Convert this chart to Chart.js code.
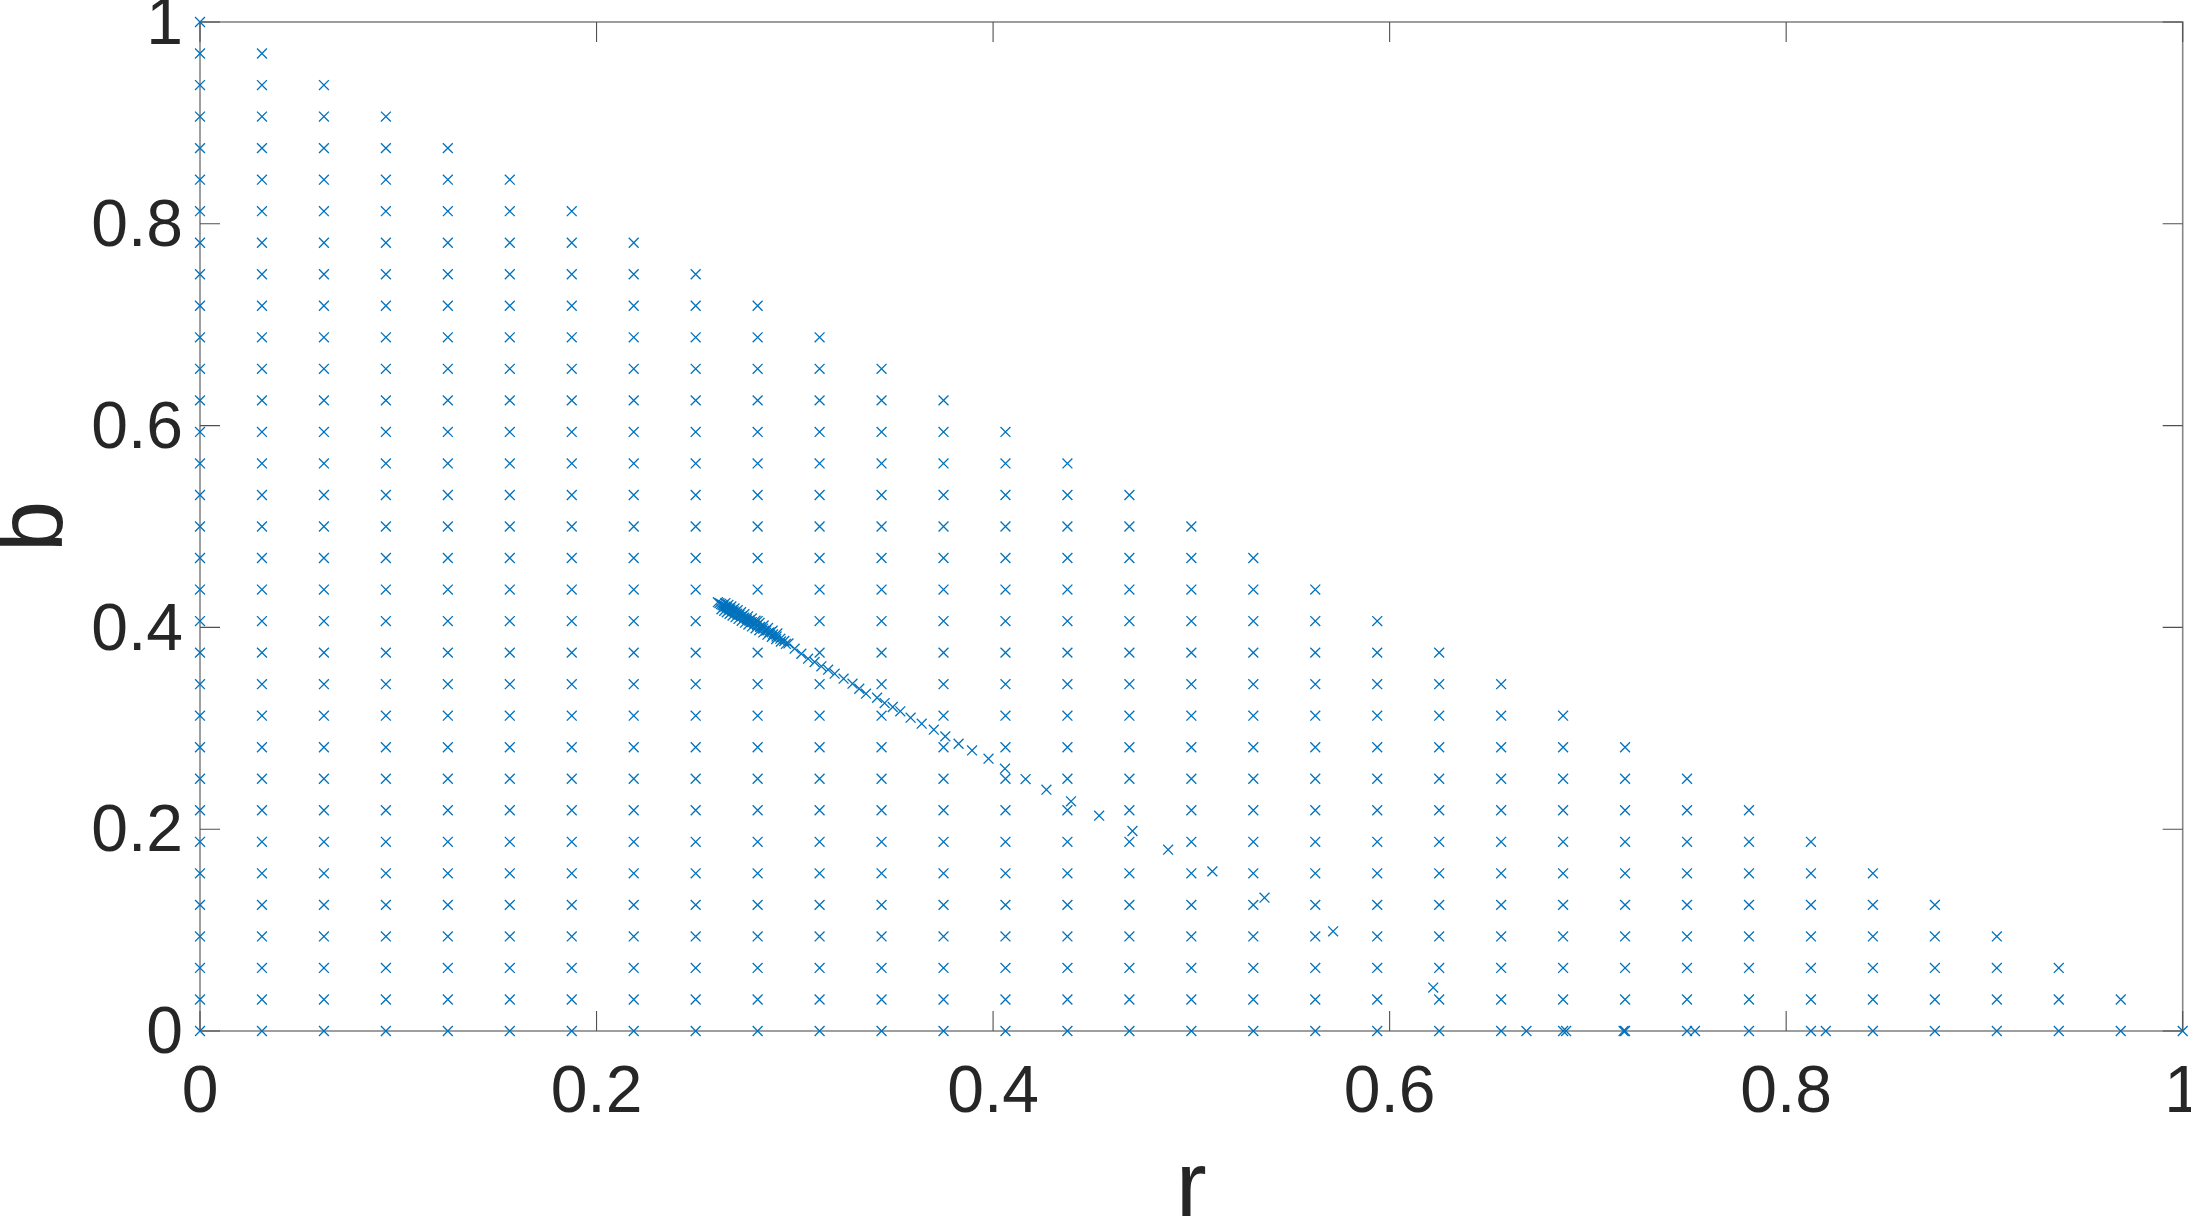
<!DOCTYPE html>
<html>
<head>
<meta charset="utf-8">
<script src="https://cdn.jsdelivr.net/npm/chart.js@4.4.1/dist/chart.umd.min.js"></script>
<style>
  html, body { margin: 0; padding: 0; background: #ffffff; }
  #wrap { width: 2191px; height: 1225px; position: relative; }
</style>
</head>
<body>
<div id="wrap"><canvas id="c"></canvas></div>
<script>
// ---------- data ----------
// grid columns (r) and grid rows (b), step 1/32
const rLevels = [0, 0.03125, 0.0625, 0.09375, 0.125, 0.15625, 0.1875, 0.21875, 0.25, 0.28125, 0.3125,
  0.34375, 0.375, 0.40625, 0.4375, 0.46875, 0.5, 0.53125, 0.5625, 0.59375, 0.625, 0.65625, 0.6875,
  0.71875, 0.75, 0.78125, 0.8125, 0.84375, 0.875, 0.90625, 0.9375, 0.96875, 1];
const bLevels = [0, 0.03125, 0.0625, 0.09375, 0.125, 0.15625, 0.1875, 0.21875, 0.25, 0.28125, 0.3125,
  0.34375, 0.375, 0.40625, 0.4375, 0.46875, 0.5, 0.53125, 0.5625, 0.59375, 0.625, 0.65625, 0.6875,
  0.71875, 0.75, 0.78125, 0.8125, 0.84375, 0.875, 0.90625, 0.9375, 0.96875, 1];
// highest occupied row index in each column
const columnTopRow = [32, 31, 30, 29, 28, 27, 26, 25, 24, 23, 22, 21, 20, 19, 18, 17, 16, 15, 14, 13,
  12, 11, 10, 9, 8, 7, 6, 5, 4, 3, 2, 1, 0];

// trajectory points (off-grid)
const trajR = [
  0.2612, 0.2620, 0.2628, 0.2635, 0.2641, 0.2650, 0.2658, 0.2666, 0.2675, 0.2683, 0.2692, 0.2700,
  0.2710, 0.2721, 0.2733, 0.2745, 0.2758, 0.2770, 0.2783, 0.2797, 0.2810, 0.2825, 0.2840, 0.2856,
  0.2872, 0.2890, 0.2908, 0.2927, 0.2947, 0.2968,
  0.2630, 0.2644, 0.2657, 0.2671, 0.2686, 0.2701, 0.2716, 0.2732, 0.2749, 0.2766, 0.2784, 0.2802,
  0.2821, 0.2841, 0.2862, 0.2884, 0.2906, 0.2930, 0.2955,
  0.2650, 0.2665, 0.2680, 0.2696, 0.2712, 0.2729, 0.2746, 0.2764, 0.2783, 0.2802, 0.2822, 0.2843,
  0.2865, 0.2888, 0.2912,
  0.2999, 0.3033, 0.3067, 0.3100, 0.3134, 0.3168, 0.3201, 0.3246, 0.3291, 0.3325, 0.3359, 0.3415,
  0.3453, 0.3494, 0.3532, 0.3584, 0.3640, 0.3701, 0.3759, 0.3826, 0.3894, 0.3977, 0.4060, 0.4164,
  0.4269, 0.4393, 0.4535, 0.4703, 0.4883, 0.5106, 0.5369, 0.5715, 0.6220,
  0.669, 0.689, 0.718, 0.754, 0.820];
const trajB = [
  0.4250, 0.4241, 0.4232, 0.4224, 0.4217, 0.4206, 0.4197, 0.4188, 0.4178, 0.4168, 0.4158, 0.4149,
  0.4137, 0.4125, 0.4111, 0.4097, 0.4082, 0.4068, 0.4053, 0.4037, 0.4022, 0.4005, 0.3988, 0.3969,
  0.3951, 0.3930, 0.3910, 0.3888, 0.3865, 0.3841,
  0.4179, 0.4165, 0.4150, 0.4134, 0.4118, 0.4101, 0.4084, 0.4066, 0.4047, 0.4029, 0.4010, 0.3991,
  0.3971, 0.3950, 0.3928, 0.3906, 0.3884, 0.3860, 0.3836,
  0.4241, 0.4224, 0.4207, 0.4188, 0.4170, 0.4150, 0.4131, 0.4110, 0.4088, 0.4067, 0.4044, 0.4019,
  0.3994, 0.3968, 0.3940,
  0.3789, 0.3739, 0.3690, 0.3657, 0.3614, 0.3581, 0.3541, 0.3492, 0.3442, 0.3392, 0.3343, 0.3303,
  0.3250, 0.3211, 0.3168, 0.3105, 0.3046, 0.2986, 0.2920, 0.2847, 0.2781, 0.2699, 0.2600, 0.2497,
  0.2392, 0.2276, 0.2134, 0.1982, 0.1797, 0.1582, 0.1321, 0.0988, 0.0430,
  0, 0, 0, 0, 0];

const xTickValues = [0, 0.2, 0.4, 0.6, 0.8, 1];
const xTickLabels = ['0', '0.2', '0.4', '0.6', '0.8', '1'];
const yTickValues = [0, 0.2, 0.4, 0.6, 0.8, 1];
const yTickLabels = ['0', '0.2', '0.4', '0.6', '0.8', '1'];
const xTitle = 'r';
const yTitle = 'b';

// ---------- build point table ----------
const points = [];
rLevels.forEach((r, i) => {
  for (let j = 0; j <= columnTopRow[i]; j++) points.push({ x: r, y: bLevels[j] });
});
trajR.forEach((r, i) => points.push({ x: r, y: trajB[i] }));

const FONT = "'Liberation Sans', Arial, Helvetica, sans-serif";
const TEXT = '#262626';

const boxPlugin = {
  id: 'matlabBox',
  beforeDatasetsDraw(chart) {
    const { ctx, chartArea: { left, right, top, bottom }, scales: { x, y } } = chart;
    ctx.save();
    ctx.strokeStyle = '#868686';
    ctx.lineWidth = 1.6;
    ctx.strokeRect(left, top, right - left, bottom - top);
    ctx.strokeStyle = '#505050';
    ctx.lineWidth = 1.1;
    const L = 20;
    ctx.beginPath();
    x.ticks.forEach(t => {
      const px = x.getPixelForValue(t.value);
      ctx.moveTo(px, bottom); ctx.lineTo(px, bottom - L);
      ctx.moveTo(px, top); ctx.lineTo(px, top + L);
    });
    y.ticks.forEach(t => {
      const py = y.getPixelForValue(t.value);
      ctx.moveTo(left, py); ctx.lineTo(left + L, py);
      ctx.moveTo(right, py); ctx.lineTo(right - L, py);
    });
    ctx.stroke();
    ctx.restore();
  }
};

new Chart(document.getElementById('c'), {
  type: 'scatter',
  data: {
    datasets: [{
      data: points,
      pointStyle: 'crossRot',
      pointRadius: 7,
      pointHoverRadius: 7,
      pointBorderWidth: 1.3,
      borderColor: '#0072BD',
      backgroundColor: '#0072BD',
      clip: false
    }]
  },
  options: {
    responsive: true,
    maintainAspectRatio: false,
    devicePixelRatio: 1,
    animation: false,
    events: [],
    layout: { padding: { top: 22, right: 6, left: 0, bottom: 0 } },
    plugins: { legend: { display: false }, tooltip: { enabled: false } },
    scales: {
      x: {
        type: 'linear', min: 0, max: 1,
        grid: { display: false, drawTicks: false },
        border: { display: false },
        afterBuildTicks: s => { s.ticks = xTickValues.map(v => ({ value: v })); },
        afterFit: s => { s.height = 194; s.paddingLeft = 0; s.paddingRight = 0; },
        ticks: {
          padding: 23,
          color: TEXT,
          maxRotation: 0,
          autoSkip: false,
          font: { family: FONT, size: 66 },
          callback: (v, i) => xTickLabels[i]
        },
        title: {
          display: true, text: xTitle, color: TEXT,
          font: { family: FONT, size: 92, lineHeight: 0.7 },
          padding: { top: 0, bottom: 2 }
        }
      },
      y: {
        type: 'linear', min: 0, max: 1,
        grid: { display: false, drawTicks: false },
        border: { display: false },
        afterBuildTicks: s => { s.ticks = yTickValues.map(v => ({ value: v })); },
        afterFit: s => { s.width = 200; s.paddingTop = 0; s.paddingBottom = 0; },
        ticks: {
          padding: 17,
          labelOffset: 4,
          color: TEXT,
          autoSkip: false,
          font: { family: FONT, size: 66 },
          callback: (v, i) => yTickLabels[i]
        },
        title: {
          display: true, text: yTitle, color: TEXT,
          font: { family: FONT, size: 92, lineHeight: 0.7 },
          padding: { top: 4, bottom: 0 }
        }
      }
    }
  },
  plugins: [boxPlugin]
});
</script>
</body>
</html>
